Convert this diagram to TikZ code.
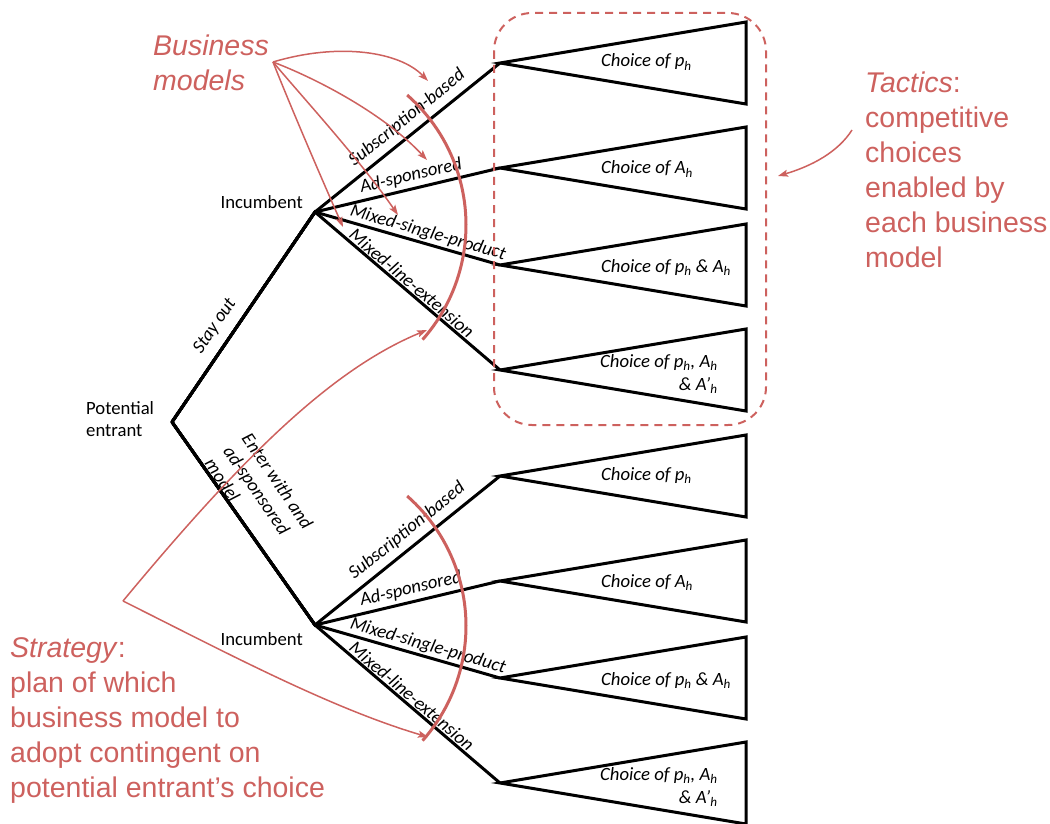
\documentclass[tikz,border=0pt]{standalone}
\usepackage{fontspec}
\setmainfont{Carlito}
\newfontfamily\notefont{Liberation Sans}
\usetikzlibrary{arrows.meta,calc}
\definecolor{accent}{RGB}{205,97,94}

\begin{document}
\begin{tikzpicture}[x=1pt,y=-1pt,
  branchline/.style={line width=3pt, line join=miter},
  leafbox/.style={line width=3pt, line join=miter},
  namelabel/.style={font=\fontsize{18.7}{22}\selectfont, inner sep=0pt},
  movelabel/.style={font=\fontsize{18.7}{22}\selectfont\itshape, inner sep=0pt, anchor=center},
  payofflabel/.style={font=\fontsize{18.7}{23}\selectfont\itshape, inner sep=0pt},
  rednote/.style={font=\notefont\fontsize{28.5}{35}\selectfont, text=accent, inner sep=0pt, align=left},
  redarrow/.style={draw=accent, line width=1.5pt, -{Stealth[length=10pt,width=7pt,inset=2pt]}},
  redarc/.style={draw=accent, line width=3pt},
  tacticbox/.style={draw=accent, line width=2pt, dash pattern=on 8pt off 6pt, rounded corners=38pt},
]
\useasboundingbox (0,0) rectangle (1050,824);

% decision nodes of the game tree
\coordinate (pe) at (172,422);
\coordinate (inc1) at (315,212);
\coordinate (inc2) at (315,625);

% apexes and right corners of the payoff triangles (upper and lower subtree)
\foreach \s/\d in {1/0, 2/413} {
  \foreach \k/\c in {1/63, 2/168, 3/265, 4/370} {
    \coordinate (a\s\k) at (500,\c+\d);
    \coordinate (t\s\k) at (746,\c-41+\d);
    \coordinate (b\s\k) at (746,\c+41+\d);
  }
}

% first move of the potential entrant
\draw[branchline] (inc1) -- (pe) -- (inc2);
\node[movelabel, rotate=55.7] (stay) at (215,326) {Stay out};
\node[namelabel, font=\fontsize{18.7}{22.5}\selectfont\itshape, rotate=-55.7, align=left, anchor=north west]
  (enter) at (252,431) {Enter with and\\ad-sponsored\\model};

% business-model branches of the incumbent and their labels
\foreach \s/\d in {1/0, 2/413} {
  \foreach \k in {1,2,3,4} {
    \draw[branchline] (pe) -- (inc\s) -- (a\s\k);
    \draw[leafbox] (a\s\k) -- (t\s\k) -- (b\s\k) -- cycle;
  }
  \node[movelabel, rotate=39.0]  (m\s1) at (407,118+\d) {Subscription-based};
  \node[movelabel, rotate=13.4]  (m\s2) at (411,176+\d) {Ad-sponsored};
  \node[movelabel, rotate=-16.0] (m\s3) at (428,233+\d) {Mixed-single-product};
  \node[movelabel, rotate=-40.5] (m\s4) at (412,283+\d) {Mixed-line-extension};
}

% node names
\node[namelabel, align=left, anchor=west] (pename) at (86,419) {Potential\\entrant};
\node[namelabel, anchor=base east] (incname1) at (303,208) {Incumbent};
\node[namelabel, anchor=base east] (incname2) at (303,645) {Incumbent};

% tactical choices inside the triangles
\foreach \s/\d in {1/0, 2/413} {
  \node[payofflabel, anchor=base west] (c\s1) at (601,67+\d) {Choice of p\textsubscript{h}};
  \node[payofflabel, anchor=base west] (c\s2) at (601,174+\d) {Choice of A\textsubscript{h}};
  \node[payofflabel, anchor=base west] (c\s3) at (601,272+\d) {Choice of p\textsubscript{h} \& A\textsubscript{h}};
  \node[payofflabel, anchor=base west, align=right] (c\s4) at (600,390+\d)
    {Choice of p\textsubscript{h}, A\textsubscript{h}\\\& A’\textsubscript{h}};
}

% tactics frame
\draw[tacticbox] (494,13) rectangle (766,425);

% brackets across the business-model branches
\coordinate (arc1c) at (293,225);
\coordinate (arc2c) at (293,626);
\draw[redarc] ($(arc1c)+(48.7:173pt)$) arc[start angle=48.7, end angle=-41.5, radius=173pt];
\draw[redarc] ($(arc2c)+(48.7:173pt)$) arc[start angle=48.7, end angle=-41.5, radius=173pt];

% annotations
\node[rednote, font=\notefont\itshape\fontsize{28.5}{35}\selectfont, anchor=north west]
  (bmnote) at (153,35) {Business\\models};
\node[rednote, anchor=north west] (tacnote) at (865,72)
  {\textit{Tactics}:\\competitive\\choices\\enabled by\\each business\\model};
\node[rednote, anchor=north west] (stnote) at (10,637)
  {\textit{Strategy}:\\plan of which\\business model to\\adopt contingent on\\potential entrant’s choice};

% annotation pointers
\coordinate (bmfrom) at (273,62);
\coordinate (bmto1) at (428,81);
\coordinate (bmto2) at (427,160);
\coordinate (bmto3) at (398,215);
\coordinate (bmto4) at (343,227);
\draw[redarrow] (bmfrom) .. controls (340,42) and (400,52) .. (bmto1);
\draw[redarrow] (bmfrom) .. controls (320,80) and (385,115) .. (bmto2);
\draw[redarrow] (bmfrom) .. controls (305,100) and (360,160) .. (bmto3);
\draw[redarrow] (bmfrom) .. controls (290,105) and (320,175) .. (bmto4);

\coordinate (tacfrom) at (852,130);
\coordinate (tacto) at (778,176);
\draw[redarrow] (tacfrom) .. controls (838,152) and (812,166) .. (tacto);

\coordinate (stfrom) at (123,601);
\coordinate (stto1) at (427,330);
\coordinate (stto2) at (428,737);
\draw[redarrow] (stfrom) .. controls (240,460) and (330,370) .. (stto1);
\draw[redarrow] (stfrom) .. controls (225,652) and (330,708) .. (stto2);
\end{tikzpicture}
\end{document}
